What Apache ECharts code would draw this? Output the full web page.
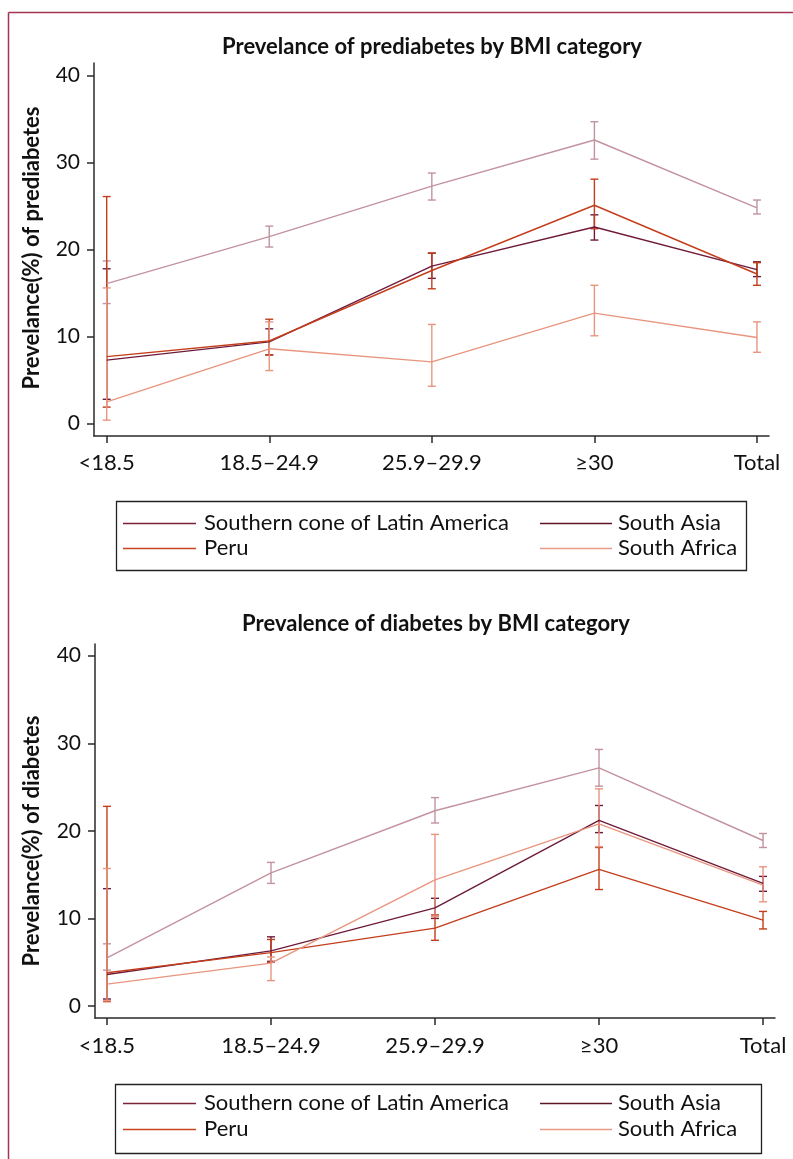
<!DOCTYPE html>
<html>
<head>
<meta charset="utf-8">
<script src="https://cdn.jsdelivr.net/npm/echarts@6/dist/echarts.min.js"></script>
<style>
html,body{margin:0;padding:0;background:#fff;}
#chart{width:793px;height:1159px;}
</style>
</head>
<body>
<div id="chart"></div>
<script>
// ---------- DATA ----------
const categories = ['<18.5', '18.5–24.9', '25.9–29.9', '≥30', 'Total'];
const yTicks = [0, 10, 20, 30, 40];
const seriesNames = ['Southern cone of Latin America', 'South Asia', 'Peru', 'South Africa'];

// Prediabetes (top panel)
const preSouthernCone = [7.3, 9.4, 18.1, 22.6, 17.7];
const preSouthernConeLo = [2.8, 7.9, 16.7, 21.1, 16.9];
const preSouthernConeHi = [17.8, 10.9, 19.6, 24.0, 18.6];
const preSouthAsia = [16.1, 21.5, 27.3, 32.6, 24.8];
const preSouthAsiaLo = [13.8, 20.3, 25.7, 30.4, 24.1];
const preSouthAsiaHi = [18.7, 22.7, 28.8, 34.7, 25.7];
const prePeru = [7.7, 9.5, 17.6, 25.1, 17.2];
const prePeruLo = [1.9, 7.9, 15.5, 22.4, 15.9];
const prePeruHi = [26.1, 12.0, 19.6, 28.1, 18.5];
const preSouthAfrica = [2.5, 8.6, 7.1, 12.7, 9.9];
const preSouthAfricaLo = [0.4, 6.1, 4.3, 10.1, 8.2];
const preSouthAfricaHi = [15.6, 11.7, 11.4, 15.9, 11.7];

// Diabetes (bottom panel)
const diaSouthernCone = [3.6, 6.3, 11.2, 21.2, 14.0];
const diaSouthernConeLo = [0.8, 5.1, 10.0, 19.8, 13.1];
const diaSouthernConeHi = [13.4, 7.9, 12.3, 22.9, 14.8];
const diaSouthAsia = [5.5, 15.2, 22.3, 27.2, 18.9];
const diaSouthAsiaLo = [4.1, 14.0, 20.9, 25.1, 18.1];
const diaSouthAsiaHi = [7.1, 16.4, 23.8, 29.3, 19.7];
const diaPeru = [3.8, 6.1, 8.9, 15.6, 9.8];
const diaPeruLo = [0.5, 5.0, 7.5, 13.3, 8.8];
const diaPeruHi = [22.8, 7.6, 10.4, 18.1, 10.8];
const diaSouthAfrica = [2.5, 4.9, 14.4, 20.8, 13.8];
const diaSouthAfricaLo = [0.6, 2.9, 10.2, 18.2, 11.9];
const diaSouthAfricaHi = [15.7, 5.6, 19.6, 24.8, 15.9];

// ---------- STYLE ----------
const colors = {
  'Southern cone of Latin America': '#6e1b3b',
  'South Asia': '#c2939f',
  'Peru': '#c43e1c',
  'South Africa': '#e8957f'
};
const legendColors = {
  'Southern cone of Latin America': '#7a2236',
  'South Asia': '#5e1626',
  'Peru': '#c8441e',
  'South Africa': '#ec9a88'
};
const FONT = 'Lato';

const panels = [
  {
    vals: [preSouthernCone, preSouthAsia, prePeru, preSouthAfrica],
    lo: [preSouthernConeLo, preSouthAsiaLo, prePeruLo, preSouthAfricaLo],
    hi: [preSouthernConeHi, preSouthAsiaHi, prePeruHi, preSouthAfricaHi]
  },
  {
    vals: [diaSouthernCone, diaSouthAsia, diaPeru, diaSouthAfrica],
    lo: [diaSouthernConeLo, diaSouthAsiaLo, diaPeruLo, diaSouthAfricaLo],
    hi: [diaSouthernConeHi, diaSouthAsiaHi, diaPeruHi, diaSouthAfricaHi]
  }
];

const grids = [
  {left: 94, top: 63, width: 675, height: 373},
  {left: 95, top: 644, width: 680, height: 374}
];
const xRanges = [[-0.078, 4.074], [-0.073, 4.073]];
const yRanges = [[-1.42, 41.45], [-1.37, 41.34]];
const xLabelMargin = [16, 17];

const axisLineStyle = {color: '#2a2a2a', width: 1.5};

const xAxes = grids.map((g, i) => ({
  type: 'value', gridIndex: i, min: xRanges[i][0], max: xRanges[i][1],
  splitLine: {show: false},
  axisLine: {show: true, onZero: false, lineStyle: axisLineStyle},
  axisTick: {show: true, customValues: [0,1,2,3,4], length: 7, lineStyle: axisLineStyle},
  axisLabel: {
    customValues: [0,1,2,3,4], margin: xLabelMargin[i],
    formatter: v => categories[Math.round(v)],
    fontFamily: FONT, fontSize: 22, color: '#111'
  }
}));
const yAxes = grids.map((g, i) => ({
  type: 'value', gridIndex: i, min: yRanges[i][0], max: yRanges[i][1],
  splitLine: {show: false},
  axisLine: {show: true, onZero: false, lineStyle: axisLineStyle},
  axisTick: {show: true, customValues: yTicks, length: 7, lineStyle: axisLineStyle},
  axisLabel: {customValues: yTicks, margin: 14, fontFamily: FONT, fontSize: 21, color: '#111'}
}));

const series = [];
panels.forEach((p, pi) => {
  seriesNames.forEach((name, si) => {
    series.push({
      type: 'line', name: name, xAxisIndex: pi, yAxisIndex: pi,
      data: p.vals[si].map((v, k) => [k, v]),
      symbol: 'none', silent: true,
      lineStyle: {color: colors[name], width: 1.4},
      itemStyle: {color: colors[name]},
      z: 3
    });
    series.push({
      type: 'custom', name: name, xAxisIndex: pi, yAxisIndex: pi,
      data: p.lo[si].map((v, k) => [k, v, p.hi[si][k]]),
      silent: true,
      z: 2,
      renderItem: function (params, api) {
        const x = api.value(0);
        const a = api.coord([x, api.value(1)]);
        const b = api.coord([x, api.value(2)]);
        const hw = 4;
        const st = {stroke: colors[name], lineWidth: 1.4, fill: null};
        return {
          type: 'group',
          children: [
            {type: 'line', shape: {x1: a[0], y1: a[1], x2: b[0], y2: b[1]}, style: st},
            {type: 'line', shape: {x1: a[0]-hw, y1: a[1], x2: a[0]+hw, y2: a[1]}, style: st},
            {type: 'line', shape: {x1: b[0]-hw, y1: b[1], x2: b[0]+hw, y2: b[1]}, style: st}
          ]
        };
      }
    });
  });
});

// Legend boxes (two columns, two rows each)
const legendLayout = [
  {box: [116.5, 501.5, 630, 69], rows: [523.5, 548.5]},
  {box: [115.5, 1084.5, 646, 69], rows: [1103.5, 1129.5]}
];
const legendCols = [
  {lineX: [123, 196], textX: 204, names: ['Southern cone of Latin America', 'Peru']},
  {lineX: [540, 612], textX: 618, names: ['South Asia', 'South Africa']}
];
const legendGraphics = [];
legendLayout.forEach(L => {
  legendGraphics.push({type: 'rect', shape: {x: L.box[0], y: L.box[1], width: L.box[2], height: L.box[3]},
    style: {stroke: '#222', fill: null, lineWidth: 1.3}});
  legendCols.forEach(c => {
    c.names.forEach((n, r) => {
      legendGraphics.push({type: 'line', shape: {x1: c.lineX[0], y1: L.rows[r], x2: c.lineX[1], y2: L.rows[r]},
        style: {stroke: legendColors[n], lineWidth: 1.3}});
      legendGraphics.push({type: 'text', x: c.textX, y: L.rows[r] - 1,
        style: {text: n, fontFamily: FONT, fontSize: 22, fill: '#111', align: 'left', verticalAlign: 'middle'}});
    });
  });
});

const frameColor = '#a53452';
const option = {
  animation: false,
  backgroundColor: '#fff',
  grid: grids,
  xAxis: xAxes,
  yAxis: yAxes,
  series: series,
  graphic: [
    {type: 'line', shape: {x1: 8.5, y1: 12.5, x2: 793, y2: 12.5}, style: {stroke: frameColor, lineWidth: 1.5}},
    {type: 'line', shape: {x1: 8.5, y1: 12.5, x2: 8.5, y2: 1159}, style: {stroke: frameColor, lineWidth: 1.5}},
    {type: 'text', x: 432, y: 47,
     style: {text: 'Prevelance of prediabetes by BMI category', fontFamily: FONT, fontSize: 22, fontWeight: 'bold', fill: '#111', align: 'center', verticalAlign: 'middle'}},
    {type: 'text', x: 436, y: 624,
     style: {text: 'Prevalence of diabetes by BMI category', fontFamily: FONT, fontSize: 22, fontWeight: 'bold', fill: '#111', align: 'center', verticalAlign: 'middle'}},
    {type: 'text', x: 32, y: 248, rotation: Math.PI / 2,
     style: {text: 'Prevelance(%) of prediabetes', fontFamily: FONT, fontSize: 22, fontWeight: 'bold', fill: '#111', align: 'center', verticalAlign: 'middle'}},
    {type: 'text', x: 32, y: 841, rotation: Math.PI / 2,
     style: {text: 'Prevelance(%) of diabetes', fontFamily: FONT, fontSize: 22, fontWeight: 'bold', fill: '#111', align: 'center', verticalAlign: 'middle'}}
  ].concat(legendGraphics)
};

const chart = echarts.init(document.getElementById('chart'), null, {renderer: 'canvas'});
chart.setOption(option);
</script>
</body>
</html>
